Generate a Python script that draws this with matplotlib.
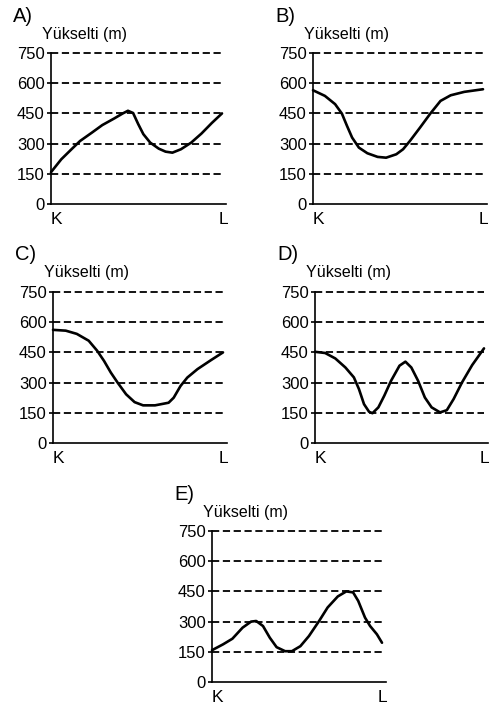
import matplotlib.pyplot as plt
from matplotlib.transforms import offset_copy

plt.rcParams['font.family'] = ['Liberation Sans', 'DejaVu Sans']

# distance along K-L (0-100) and elevation (m) for each option
a_x = [0, 6, 12, 17, 24, 30, 37, 42, 45, 48, 51, 54, 58, 63, 67, 71, 76, 82, 88, 94, 100]
a_y = [158, 222, 272, 313, 355, 392, 425, 450, 463, 452, 397, 347, 305, 275, 260, 255, 272, 305, 350, 402, 450]

b_x = [0, 7, 13, 17, 20, 23, 27, 32, 38, 43, 49, 53, 57, 63, 69, 75, 81, 89, 100]
b_y = [565, 537, 496, 449, 388, 330, 280, 252, 234, 230, 247, 272, 313, 380, 449, 512, 540, 557, 570]

c_x = [0, 7.5, 14, 21, 26, 30, 34, 38, 43, 48, 53, 60, 68, 71, 75, 79, 85, 93, 100]
c_y = [562, 558, 542, 508, 458, 408, 350, 300, 242, 203, 187, 187, 200, 225, 283, 325, 367, 412, 450]

d_x = [0, 6, 12, 18, 23, 26, 29, 32, 34, 37.5, 41, 45, 50, 53.5, 57, 61, 65, 69, 74, 78, 82, 87, 93, 100]
d_y = [453, 447, 420, 375, 326, 268, 193, 155, 148, 177, 235, 309, 384, 404, 375, 309, 226, 177, 152, 163, 218, 301, 387, 470]

e_x = [0, 6.5, 12, 18, 23, 26, 30, 34, 38, 43, 47, 52, 57, 63, 68, 74, 79, 83, 86, 90, 93, 97, 100]
e_y = [158, 187, 215, 270, 300, 303, 278, 220, 173, 153, 153, 178, 228, 303, 370, 425, 450, 445, 403, 320, 278, 237, 195]

yticks = [0, 150, 300, 450, 600, 750]
labels = ['A)', 'B)', 'C)', 'D)', 'E)']
series = [(a_x, a_y), (b_x, b_y), (c_x, c_y), (d_x, d_y), (e_x, e_y)]

W, H = 494, 706
# axes boxes in pixels: left, bottom-y(0 m), right
boxes = [(51, 204, 226), (313, 204, 487), (53, 443, 227), (315, 443, 488), (212, 682, 386)]

fig = plt.figure(figsize=(W / 100, H / 100), dpi=100)

for (x, y), lab, (l, b, r) in zip(series, labels, boxes):
    ax = fig.add_axes([l / W, 1 - b / H, (r - l) / W, 151 / H])
    xmax = 100 * (r - l) / (r - l - 4)
    ax.set_xlim(0, xmax)
    ax.set_ylim(0, 750)
    for v in yticks[1:]:
        ax.plot([0, 100], [v, v], color='black', lw=1.3, dashes=(4, 2), clip_on=False)
    ax.plot(x, y, color='black', lw=1.9, clip_on=False,
            solid_capstyle='round', solid_joinstyle='round')
    for s in ['top', 'right']:
        ax.spines[s].set_visible(False)
    ax.spines['left'].set_linewidth(1.2)
    ax.spines['bottom'].set_linewidth(1.2)
    ax.set_yticks(yticks)
    ax.set_yticklabels([str(t) for t in yticks], fontsize=12)
    ax.tick_params(axis='y', length=3, width=1.2, pad=1.5)
    ax.set_xticks([])
    ax.text(0, -0.05, 'K', transform=ax.transAxes, ha='left', va='top', fontsize=12.5)
    ax.text(1.01, -0.05, 'L', transform=ax.transAxes, ha='right', va='top', fontsize=12.5)
    t1 = offset_copy(ax.transAxes, fig=fig, x=-9, y=19, units='dots')
    ax.text(0, 1, 'Yükselti (m)', transform=t1, ha='left', va='center', fontsize=11.5)
    t2 = offset_copy(ax.transAxes, fig=fig, x=-38, y=37, units='dots')
    ax.text(0, 1, lab, transform=t2, ha='left', va='center', fontsize=14.5)

fig.savefig('out.png', dpi=100)
